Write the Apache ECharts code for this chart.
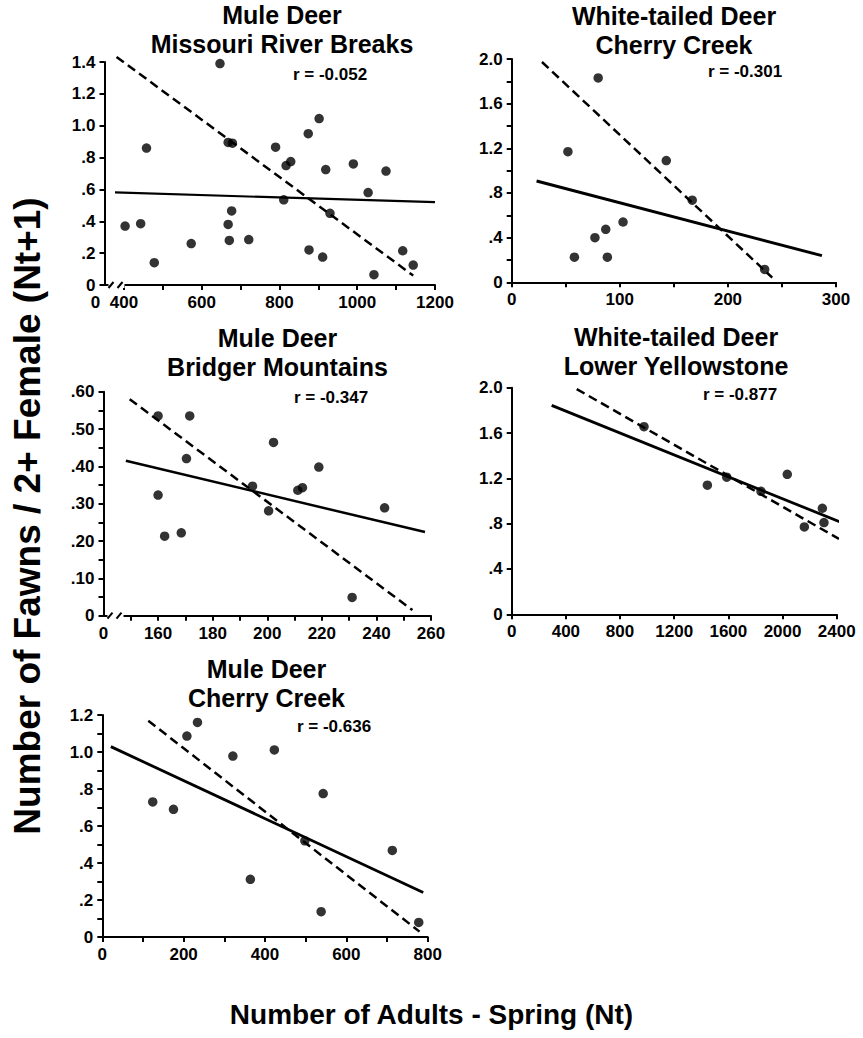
<!DOCTYPE html>
<html>
<head>
<meta charset="utf-8">
<title>Fawn recruitment vs. spring adult numbers</title>
<script src="https://cdn.jsdelivr.net/npm/echarts@6/dist/echarts.min.js"></script>
<style>
  html, body { margin: 0; padding: 0; background: #fff; }
  #chart { width: 863px; height: 1038px; }
</style>
</head>
<body>
<div id="chart"></div>
<script>
// ---- Mule Deer, Missouri River Breaks ----
const mrbPoints = [[403,0.37],[443,0.385],[458,0.86],[478,0.14],[573,0.26],[647,1.39],
  [668,0.895],[679,0.89],[668,0.38],[677,0.465],[671,0.28],[721,0.285],[790,0.865],
  [811,0.535],[817,0.75],[829,0.775],[874,0.95],[902,1.045],[919,0.725],[876,0.22],
  [911,0.175],[930,0.45],[990,0.76],[1028,0.58],[1074,0.715],[1043,0.065],[1117,0.215],[1144,0.125]];
const mrbFit = [[377,0.581],[1200,0.52]];
const mrbDashed = [[381,1.432],[1144,0.059]];
const mrbXTicks = [400,500,600,700,800,900,1000,1100,1200];
const mrbXLabelVals = [350,400,600,800,1000,1200];
const mrbXLabels = ['0','400','600','800','1000','1200'];
const mrbYTicks = [0,0.2,0.4,0.6,0.8,1.0,1.2,1.4];
const mrbYLabels = ['0','.2','.4','.6','.8','1.0','1.2','1.4'];

// ---- White-tailed Deer, Cherry Creek ----
const wtccPoints = [[80,1.83],[52,1.17],[143,1.09],[167,0.735],[103,0.54],[87,0.475],
  [77,0.40],[58,0.225],[88.5,0.225],[234,0.115]];
const wtccFit = [[23,0.907],[287,0.239]];
const wtccDashed = [[28,1.973],[241,0.042]];
const wtccXTicks = [0,50,100,150,200,250,300];
const wtccXLabelVals = [0,100,200,300];
const wtccXLabels = ['0','100','200','300'];
const wtccYTicks = [0,0.2,0.4,0.6,0.8,1.0,1.2,1.4,1.6,1.8,2.0];
const wtccYLabelVals = [0,0.4,0.8,1.2,1.6,2.0];
const wtccYLabels = ['0','.4','.8','1.2','1.6','2.0'];

// ---- Mule Deer, Bridger Mountains ----
const bmPoints = [[160,0.535],[171.6,0.535],[170.4,0.421],[160,0.323],[162.4,0.213],
  [168.5,0.222],[194.6,0.347],[202.3,0.464],[200.5,0.281],[211.2,0.336],[212.9,0.343],
  [218.9,0.398],[243,0.289],[231.1,0.049]];
const bmFit = [[148.2,0.415],[257.8,0.224]];
const bmDashed = [[149.6,0.58],[253.2,0.015]];
const bmXTicks = [150,160,170,180,190,200,210,220,230,240,250,260];
const bmXLabelVals = [140,160,180,200,220,240,260];
const bmXLabels = ['0','160','180','200','220','240','260'];
const bmYTicks = [0,0.05,0.1,0.15,0.2,0.25,0.3,0.35,0.4,0.45,0.5,0.55,0.6];
const bmYLabelVals = [0,0.1,0.2,0.3,0.4,0.5,0.6];
const bmYLabels = ['0','.10','.20','.30','.40','.50','.60'];

// ---- White-tailed Deer, Lower Yellowstone ----
const lyPoints = [[977,1.656],[1445,1.14],[1588,1.21],[1841,1.085],[2035,1.235],
  [2161,0.771],[2294,0.936],[2306,0.81]];
const lyFit = [[295,1.844],[2462,0.797]];
const lyDashed = [[480,1.988],[2417,0.665]];
const lyXTicks = [0,400,800,1200,1600,2000,2400];
const lyXLabels = ['0','400','800','1200','1600','2000','2400'];
const lyYTicks = [0,0.4,0.8,1.2,1.6,2.0];
const lyYLabels = ['0','.4','.8','1.2','1.6','2.0'];

// ---- Mule Deer, Cherry Creek ----
const mccPoints = [[124,0.73],[175,0.69],[208,1.086],[234,1.16],[321,0.978],[423,1.011],
  [364,0.312],[543,0.775],[538,0.137],[713,0.468],[778,0.079],[498,0.52]];
const mccFit = [[21,1.029],[789,0.241]];
const mccDashed = [[113,1.169],[780,0.029]];
const mccXTicks = [0,100,200,300,400,500,600,700,800];
const mccXLabelVals = [0,200,400,600,800];
const mccXLabels = ['0','200','400','600','800'];
const mccYTicks = [0,0.1,0.2,0.3,0.4,0.5,0.6,0.7,0.8,0.9,1.0,1.1,1.2];
const mccYLabelVals = [0,0.2,0.4,0.6,0.8,1.0,1.2];
const mccYLabels = ['0','.2','.4','.6','.8','1.0','1.2'];

const FONT = '"Liberation Sans", Arial, Helvetica, sans-serif';

function axis(gridIndex, min, max, tickVals, labelVals, labelTexts, zeroShift) {
  const fmt = v => {
    const i = labelVals.findIndex(u => Math.abs(u - v) < 1e-9);
    const t = i < 0 ? '' : labelTexts[i];
    return (zeroShift && i === 0) ? '{z|' + t + '}' : t;
  };
  const label = {
    show: true, customValues: labelVals, margin: 9, color: '#000',
    fontFamily: FONT, fontSize: 17, fontWeight: 'bold', formatter: fmt
  };
  if (zeroShift) {
    label.rich = { z: { padding: [0, zeroShift, 0, 0], color: '#000', fontFamily: FONT, fontSize: 17, fontWeight: 'bold' } };
  }
  return {
    type: 'value', gridIndex, min, max,
    axisLine: { show: true, onZero: false, lineStyle: { color: '#000', width: 2 } },
    axisTick: { show: true, inside: false, length: 5, customValues: tickVals, lineStyle: { color: '#000', width: 2 } },
    axisLabel: label,
    splitLine: { show: false }
  };
}

function panelSeries(i, pts, fit, dash, fitWidth) {
  return [
    { type: 'line', xAxisIndex: i, yAxisIndex: i, data: fit, symbol: 'none', clip: false,
      lineStyle: { color: '#000', width: fitWidth }, z: 2, silent: true },
    { type: 'line', xAxisIndex: i, yAxisIndex: i, data: dash, symbol: 'none', clip: false,
      lineStyle: { color: '#000', width: 2.5, type: [9, 5] }, z: 2, silent: true },
    { type: 'scatter', xAxisIndex: i, yAxisIndex: i, data: pts, symbol: 'circle', symbolSize: 9.5,
      itemStyle: { color: '#000' }, z: 3 }
  ];
}

// "//" break marks on an x axis that does not start at zero
function breakMark(i, xmin) {
  return {
    type: 'custom', xAxisIndex: i, yAxisIndex: i, data: [[xmin, 0]], clip: false, z: 5, silent: true,
    renderItem: (params, api) => {
      const p = api.coord([api.value(0), api.value(1)]);
      const x = p[0], y = p[1];
      return { type: 'group', children: [
        { type: 'rect', shape: { x: x + 4, y: y - 3, width: 16, height: 6 }, style: { fill: '#fff' } },
        { type: 'line', shape: { x1: x + 4, y1: y + 3, x2: x + 9, y2: y - 3 }, style: { stroke: '#000', lineWidth: 2 } },
        { type: 'line', shape: { x1: x + 13, y1: y + 3, x2: x + 18, y2: y - 3 }, style: { stroke: '#000', lineWidth: 2 } }
      ] };
    }
  };
}

function txt(text, x, y, size, extra, lineHeight) {
  const style = { text, fill: '#000', font: 'bold ' + size + 'px ' + FONT, textAlign: 'center', textVerticalAlign: 'middle' };
  if (lineHeight) style.lineHeight = lineHeight;
  return Object.assign({ type: 'text', x, y, silent: true, style }, extra || {});
}

const chart = echarts.init(document.getElementById('chart'), null, { renderer: 'svg' });

chart.setOption({
  animation: false,
  backgroundColor: '#fff',
  grid: [
    { left: 104.5, top: 62,    width: 330.5, height: 223 },
    { left: 511.7, top: 59,    width: 324.3, height: 223.3 },
    { left: 103.5, top: 391.7, width: 327.5, height: 224 },
    { left: 511.7, top: 387.7, width: 325,   height: 226.6 },
    { left: 102.3, top: 715,   width: 325.4, height: 222 }
  ],
  xAxis: [
    axis(0, 350, 1200, mrbXTicks, mrbXLabelVals, mrbXLabels, 18),
    axis(1, 0, 300, wtccXTicks, wtccXLabelVals, wtccXLabels),
    axis(2, 140, 260, bmXTicks, bmXLabelVals, bmXLabels),
    axis(3, 0, 2400, lyXTicks, lyXTicks, lyXLabels),
    axis(4, 0, 800, mccXTicks, mccXLabelVals, mccXLabels)
  ],
  yAxis: [
    axis(0, 0, 1.4, mrbYTicks, mrbYTicks, mrbYLabels),
    axis(1, 0, 2.0, wtccYTicks, wtccYLabelVals, wtccYLabels),
    axis(2, 0, 0.6, bmYTicks, bmYLabelVals, bmYLabels),
    axis(3, 0, 2.0, lyYTicks, lyYTicks, lyYLabels),
    axis(4, 0, 1.2, mccYTicks, mccYLabelVals, mccYLabels)
  ],
  series: [].concat(
    panelSeries(0, mrbPoints, mrbFit, mrbDashed, 2.2),
    panelSeries(1, wtccPoints, wtccFit, wtccDashed, 3),
    panelSeries(2, bmPoints, bmFit, bmDashed, 2.5),
    panelSeries(3, lyPoints, lyFit, lyDashed, 2.8),
    panelSeries(4, mccPoints, mccFit, mccDashed, 2.8),
    [breakMark(0, 350), breakMark(2, 140)]
  ),
  graphic: [
    txt('Mule Deer\nMissouri River Breaks', 282, 29.6, 25, null, 29),
    txt('White-tailed Deer\nCherry Creek', 674, 30.4, 25, null, 29),
    txt('Mule Deer\nBridger Mountains', 277.5, 352.6, 25, null, 29),
    txt('White-tailed Deer\nLower Yellowstone', 676, 351.2, 25, null, 29),
    txt('Mule Deer\nCherry Creek', 266.5, 683, 25, null, 29),
    txt('r = -0.052', 330, 74, 17),
    txt('r = -0.301', 745, 71, 17),
    txt('r = -0.347', 331, 397, 17),
    txt('r = -0.877', 740, 394, 17),
    txt('r = -0.636', 334, 726, 17),
    txt('Number of Adults - Spring (Nt)', 431.5, 1014, 28),
    txt('Number of Fawns / 2+ Female (Nt+1)', 27, 516, 37, { rotation: Math.PI / 2 })
  ]
});
</script>
</body>
</html>
